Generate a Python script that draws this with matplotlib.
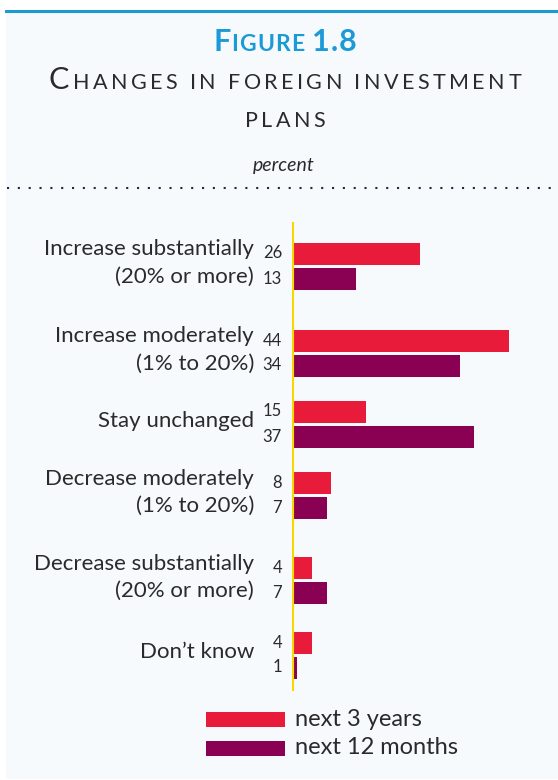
import matplotlib
matplotlib.use("Agg")
import numpy as np
import matplotlib.pyplot as plt
from matplotlib.patches import Rectangle
from matplotlib.lines import Line2D

W, H = 558, 780
plt.rcParams['font.family'] = ['Lato', 'DejaVu Sans']

# data
categories = ["Increase substantially\n(20% or more)",
              "Increase moderately\n(1% to 20%)",
              "Stay unchanged",
              "Decrease moderately\n(1% to 20%)",
              "Decrease substantially\n(20% or more)",
              "Don\u2019t know"]
next_3_years = [26, 44, 15, 8, 4, 4]
next_12_months = [13, 34, 37, 7, 7, 1]
series_names = ["next 3 years", "next 12 months"]
colors = ["#e81b3b", "#8a0052"]

# vertical layout of the groups (pixel rows of the figure)
group_y = np.array([266, 353, 424, 495.5, 580.5, 655])

txt_col = "#2a2a2a"


def fx(x):
    return x / W


def fy(y):
    return 1 - y / H


fig = plt.figure(figsize=(W / 100, H / 100), dpi=100)
fig.patch.set_facecolor("white")

# panel background and top rule
fig.patches.append(Rectangle((fx(6), fy(779)), fx(W) - fx(6), fy(10) - fy(779),
                             transform=fig.transFigure, facecolor="#f6fafd",
                             edgecolor="none", zorder=-5))
fig.lines.append(Line2D([fx(6), fx(W)], [fy(10.5), fy(10.5)], transform=fig.transFigure,
                        color="#1d9ad6", lw=2.2))


def spaced_text(y, pieces, target_w, cx=285, color=txt_col, weight="normal"):
    # draw text char by char so we can fake small caps + letter spacing
    arts = []
    for s, size in pieces:
        for ch in s:
            t = fig.text(0, fy(y), ch, fontsize=size, color=color,
                         fontweight=weight, ha="left", va="baseline")
            arts.append((t, ch, size))
    r = fig.canvas.get_renderer()
    widths = []
    for t, ch, size in arts:
        if ch == " ":
            widths.append(size * 1.389 * 0.25)
        else:
            widths.append(t.get_window_extent(renderer=r).width)
    n = len(arts)
    track = (target_w - sum(widths)) / (n - 1)
    x = cx - target_w / 2
    for (t, ch, size), w in zip(arts, widths):
        t.set_x(fx(x))
        x += w + track


spaced_text(51, [("F", 22), ("IGURE", 16.5), (" ", 16.5), ("1.8", 22)], 144,
            color="#1a9ad6", weight="bold")
spaced_text(89, [("C", 22), ("HANGES", 15.5), (" ", 15.5), ("IN", 15.5), (" ", 15.5),
                 ("FOREIGN", 15.5), (" ", 15.5), ("INVESTMENT", 15.5)], 472)
spaced_text(127, [("PLANS", 15.5)], 80)

fig.text(fx(284), fy(165), "percent", fontsize=14, style="italic", color=txt_col,
         ha="center", va="center")

# dotted separator
fig.lines.append(Line2D([fx(7), fx(W)], [fy(188), fy(188)], transform=fig.transFigure,
                        color="#1e2a46", lw=1.5, linestyle=(0, (1, 4.2))))

# bar chart
x0_px, y_top, y_bot = 292, 222, 691
scale = 4.93  # px per percent
xmax = 50
ax = fig.add_axes([fx(x0_px), fy(y_bot), xmax * scale / W, (y_bot - y_top) / H])
ax.set_xlim(0, xmax)
ax.set_ylim(y_bot, y_top)
ax.axis("off")
ax.patch.set_alpha(0)

off = 12.5
bh = 22
ax.barh(group_y - off, next_3_years, height=bh, color=colors[0], zorder=2)
ax.barh(group_y + off, next_12_months, height=bh, color=colors[1], zorder=2)
ax.axvline(0, color="#f9d800", lw=3, zorder=3)

val_x = -(x0_px - 282) / scale
lab_x = -(x0_px - 254) / scale
for yc, a, b, cat in zip(group_y, next_3_years, next_12_months, categories):
    ax.text(val_x, yc - off, str(a), ha="right", va="center", fontsize=12,
            color=txt_col, clip_on=False)
    ax.text(val_x, yc + off, str(b), ha="right", va="center", fontsize=12,
            color=txt_col, clip_on=False)
    ax.text(lab_x, yc - 3, cat, ha="right", va="center", fontsize=16,
            color=txt_col, linespacing=1.45, clip_on=False)

# legend
for i, (name, c) in enumerate(zip(series_names, colors)):
    ytop = 712 + i * 29
    fig.patches.append(Rectangle((fx(206), fy(ytop + 15)), fx(285) - fx(206), 15 / H,
                                 transform=fig.transFigure, facecolor=c, edgecolor="none"))
    fig.text(fx(295), fy(ytop + 7), name, fontsize=17, color=txt_col,
             ha="left", va="center")

fig.savefig("out.png", dpi=100)
